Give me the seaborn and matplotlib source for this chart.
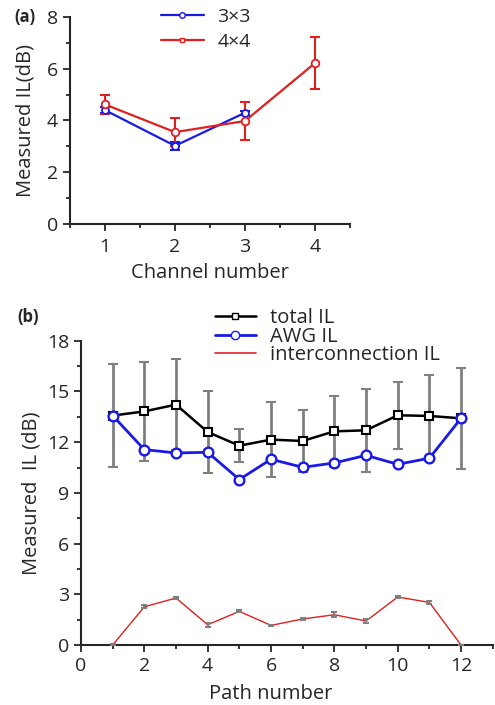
import pandas as pd
import matplotlib.pyplot as plt
import seaborn as sns
from matplotlib.lines import Line2D
from matplotlib.ticker import MultipleLocator

# panel (a) data
channel = [1, 2, 3, 4]
il_3x3 = [4.40, 3.02, 4.30]
err_3x3 = [0.12, 0.15, 0.08]
il_4x4 = [4.62, 3.55, 3.98, 6.22]
err_4x4 = [0.38, 0.54, 0.75, 1.00]

# panel (b) data
path = [1, 2, 3, 4, 5, 6, 7, 8, 9, 10, 11, 12]
total_il = [13.57, 13.82, 14.22, 12.60, 11.79, 12.15, 12.07, 12.64, 12.70, 13.59, 13.55, 13.41]
total_err = [3.05, 2.95, 2.70, 2.41, 0.97, 2.20, 1.85, 2.10, 2.47, 1.98, 2.45, 3.00]
awg_il = [13.57, 11.56, 11.36, 11.40, 9.79, 10.99, 10.51, 10.77, 11.22, 10.69, 11.05, 13.41]
inter_il = [0.0, 2.26, 2.78, 1.20, 1.99, 1.16, 1.54, 1.79, 1.42, 2.84, 2.52, 0.0]
inter_err = [0.03, 0.10, 0.06, 0.12, 0.06, 0.05, 0.05, 0.15, 0.10, 0.04, 0.08, 0.0]

sns.set_style('ticks')
plt.rcParams['font.family'] = ['Open Sans', 'DejaVu Sans']
plt.rcParams['axes.linewidth'] = 1.5

blue = '#1a1ae6'
red = '#e02020'
gray = '#808080'

fig = plt.figure(figsize=(4.95, 7.05), dpi=100)

# ---------------- (a)
ax1 = fig.add_axes([0.1414, 0.6823, 0.5657, 0.2936])
df3 = pd.DataFrame({'ch': channel[:3], 'il': il_3x3})
df4 = pd.DataFrame({'ch': channel, 'il': il_4x4})
ax1.errorbar(channel[:3], il_3x3, yerr=err_3x3, fmt='none', ecolor=blue,
             elinewidth=1.5, capsize=3.5, capthick=1.5, zorder=2)
ax1.errorbar(channel, il_4x4, yerr=err_4x4, fmt='none', ecolor=red,
             elinewidth=1.5, capsize=3.5, capthick=1.5, zorder=2)
sns.lineplot(data=df3, x='ch', y='il', ax=ax1, color=blue, lw=1.6,
             marker='o', markersize=5, markerfacecolor='white',
             markeredgecolor=blue, markeredgewidth=1.3, zorder=3)
sns.lineplot(data=df4, x='ch', y='il', ax=ax1, color=red, lw=1.6,
             marker='o', markersize=5.5, markerfacecolor='white',
             markeredgecolor=red, markeredgewidth=1.3, zorder=3)
ax1.set_xlim(0.5, 4.5)
ax1.set_ylim(0, 8)
ax1.xaxis.set_major_locator(MultipleLocator(1))
ax1.xaxis.set_minor_locator(MultipleLocator(0.5))
ax1.yaxis.set_major_locator(MultipleLocator(2))
ax1.yaxis.set_minor_locator(MultipleLocator(1))
ax1.tick_params(which='both', direction='out', width=1.3, labelsize=14)
ax1.tick_params(which='major', length=5)
ax1.tick_params(which='minor', length=3)
ax1.tick_params(axis='x', pad=5)
ax1.set_xlabel('Channel number', fontsize=14.5, labelpad=5)
ax1.set_ylabel('Measured IL(dB)', fontsize=14.5, labelpad=8)
sns.despine(ax=ax1)
h1 = [Line2D([], [], color=blue, lw=1.6, marker='o', markersize=4,
             markerfacecolor='white', markeredgecolor=blue),
      Line2D([], [], color=red, lw=1.6, marker='s', markersize=3.5,
             markerfacecolor='white', markeredgecolor=red)]
fig.legend(h1, ['3×3', '4×4'], loc='upper left', bbox_to_anchor=(0.325, 0.989),
           frameon=False, fontsize=14, handlelength=2.2, handletextpad=0.7,
           labelspacing=0.35, borderpad=0, borderaxespad=0)
fig.text(0.03, 0.976, '(a)', fontsize=12, fontweight='bold', va='center')

# ---------------- (b)
ax2 = fig.add_axes([0.1636, 0.0851, 0.8318, 0.4316])
dfb = pd.DataFrame({'path': path, 'total': total_il, 'awg': awg_il, 'inter': inter_il})
ax2.errorbar(path, total_il, yerr=total_err, fmt='none', ecolor=gray,
             elinewidth=2, capsize=3.5, capthick=1.5, zorder=1)
sns.lineplot(data=dfb, x='path', y='total', ax=ax2, color='black', lw=1.8,
             marker='s', markersize=6, markerfacecolor='white',
             markeredgecolor='black', markeredgewidth=1.5, zorder=3)
sns.lineplot(data=dfb, x='path', y='awg', ax=ax2, color=blue, lw=2,
             marker='o', markersize=7, markerfacecolor='white',
             markeredgecolor=blue, markeredgewidth=1.7, zorder=4)
sns.lineplot(data=dfb, x='path', y='inter', ax=ax2, color=red, lw=1,
             zorder=3)
ax2.errorbar(path, inter_il, yerr=inter_err, fmt='none', ecolor=gray,
             elinewidth=1.5, capsize=2.5, capthick=1.5, zorder=4)
ax2.set_xlim(0, 13)
ax2.set_ylim(0, 18)
ax2.xaxis.set_major_locator(MultipleLocator(2))
ax2.xaxis.set_minor_locator(MultipleLocator(1))
ax2.yaxis.set_major_locator(MultipleLocator(3))
ax2.yaxis.set_minor_locator(MultipleLocator(1.5))
ax2.tick_params(which='both', direction='out', width=1.3, labelsize=14)
ax2.tick_params(which='major', length=5)
ax2.tick_params(which='minor', length=3)
ax2.set_xlabel('Path number', fontsize=14.5, labelpad=0)
ax2.xaxis.set_label_coords(0.4615, -0.128)
ax2.set_ylabel('Measured  IL (dB)', fontsize=14.5, labelpad=4)
sns.despine(ax=ax2)
h2 = [Line2D([], [], color='black', lw=1.8, marker='s', markersize=5,
             markerfacecolor='white', markeredgecolor='black'),
      Line2D([], [], color=blue, lw=2, marker='o', markersize=6,
             markerfacecolor='white', markeredgecolor=blue),
      Line2D([], [], color=red, lw=1.2)]
fig.legend(h2, ['total IL', 'AWG IL', 'interconnection IL'], loc='upper left',
           bbox_to_anchor=(0.435, 0.5625), frameon=False, fontsize=14.5,
           handlelength=2.0, handletextpad=0.7, labelspacing=-0.08,
           borderpad=0, borderaxespad=0)
fig.text(0.035, 0.55, '(b)', fontsize=12, fontweight='bold', va='center')

fig.savefig('out.png', dpi=100)
